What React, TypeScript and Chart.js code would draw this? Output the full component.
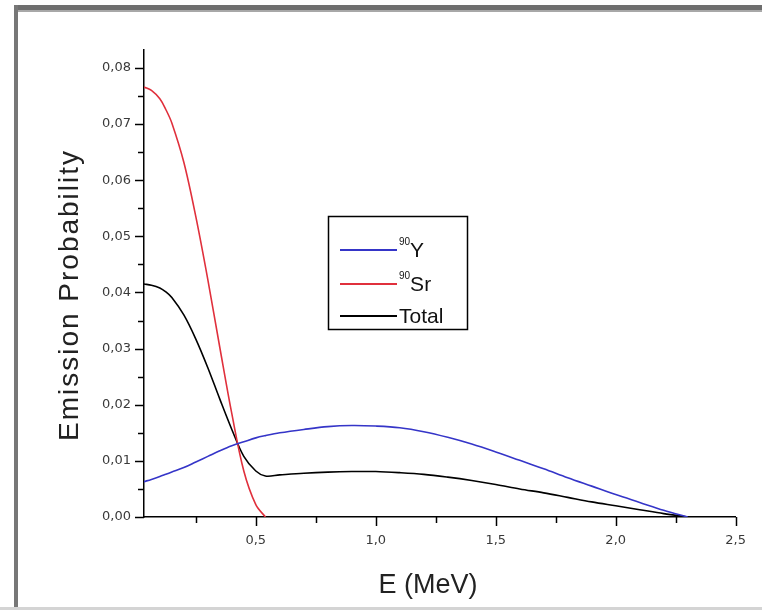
import React, { useEffect, useRef } from "react";
import { Chart, registerables } from "chart.js";

Chart.register(...registerables);

// Energy grid (MeV)
const energy = [0.034, 0.065, 0.1, 0.125, 0.15, 0.2, 0.25, 0.3, 0.35, 0.4, 0.45, 0.5, 0.54, 0.6, 0.7, 0.8, 0.9, 1.0, 1.1, 1.2, 1.3, 1.4, 1.5, 1.6, 1.7, 1.8, 1.9, 2.0, 2.1, 2.2, 2.3];
const yttriumValues = [0.0063, 0.0067, 0.0072, 0.0076, 0.008, 0.0088, 0.0098, 0.0108, 0.0118, 0.0127, 0.0134, 0.0141, 0.0145, 0.015, 0.0156, 0.0161, 0.0163, 0.0162, 0.0159, 0.0152, 0.0142, 0.013, 0.0116, 0.0101, 0.0086, 0.007, 0.0055, 0.004, 0.0026, 0.0012, 0.0];
const totalValues = [0.0415, 0.0413, 0.0408, 0.0401, 0.0391, 0.036, 0.0317, 0.0266, 0.021, 0.0156, 0.0108, 0.0082, 0.0073, 0.0075, 0.0078, 0.008, 0.0081, 0.0081, 0.0079, 0.0076, 0.0071, 0.0065, 0.0058, 0.005, 0.0043, 0.0035, 0.0027, 0.002, 0.0013, 0.0006, 0.0];
const srEnergy = [0.034, 0.065, 0.1, 0.125, 0.15, 0.2, 0.25, 0.3, 0.35, 0.4, 0.45, 0.5, 0.54];
const strontiumValues = [0.0766, 0.076, 0.0745, 0.0726, 0.0702, 0.0632, 0.0535, 0.0423, 0.0302, 0.0184, 0.0082, 0.0022, 0.0];

const xTicks = [0.25, 0.5, 0.75, 1.0, 1.25, 1.5, 1.75, 2.0, 2.25, 2.5];
const yTicks = [0, 0.005, 0.01, 0.015, 0.02, 0.025, 0.03, 0.035, 0.04, 0.045, 0.05, 0.055, 0.06, 0.065, 0.07, 0.075, 0.08];

const seriesNames = ["Y", "Sr", "Total"];
const seriesSup = ["90", "90", ""];
const xTitle = "E (MeV)";
const yTitle = "Emission Probability";

const isMajor = (v: number, step: number) => Math.abs(v / step - Math.round(v / step)) < 1e-6;

const framePlugin = {
  id: "frame",
  beforeDraw(chart: any) {
    const { ctx, width, height } = chart;
    ctx.save();
    ctx.fillStyle = "#ffffff";
    ctx.fillRect(0, 0, width, height);
    ctx.fillStyle = "#6e6e6e";
    ctx.fillRect(14, 5, width - 14, 5);
    ctx.fillStyle = "#a8a8a8";
    ctx.fillRect(14, 10, width - 14, 2);
    ctx.fillStyle = "#777777";
    ctx.fillRect(14, 5, 4, height - 8);
    ctx.fillStyle = "#d4d4d4";
    ctx.fillRect(0, height - 3, width, 3);
    ctx.restore();
  },
  afterDraw(chart: any) {
    const { ctx, chartArea } = chart;
    const xs = chart.scales.x;
    const ys = chart.scales.y;
    ctx.save();
    ctx.strokeStyle = "#000";
    ctx.lineWidth = 1.5;
    xs.ticks.forEach((t: any) => {
      const px = Math.round(xs.getPixelForValue(t.value)) + 0.5;
      const len = isMajor(t.value, 0.5) ? 9 : 6;
      ctx.beginPath();
      ctx.moveTo(px, chartArea.bottom);
      ctx.lineTo(px, chartArea.bottom + len);
      ctx.stroke();
    });
    ys.ticks.forEach((t: any) => {
      const py = Math.round(ys.getPixelForValue(t.value)) + 0.5;
      const len = isMajor(t.value, 0.01) ? 9 : 6;
      ctx.beginPath();
      ctx.moveTo(chartArea.left, py);
      ctx.lineTo(chartArea.left - len, py);
      ctx.stroke();
    });
    ctx.fillStyle = "#222";
    ctx.font = "27px 'Liberation Sans', Arial, sans-serif";
    ctx.textAlign = "center";
    ctx.textBaseline = "middle";
    ctx.fillText(xTitle, 428, 586);
    ctx.save();
    ctx.translate(70, 295);
    ctx.rotate(-Math.PI / 2);
    (ctx as any).letterSpacing = "2px";
    ctx.font = "28px 'Liberation Sans', Arial, sans-serif";
    ctx.fillText(yTitle, 0, 0);
    ctx.restore();
    const bx = 328, by = 216, bw = 139, bh = 113;
    ctx.lineWidth = 1.5;
    ctx.strokeStyle = "#000";
    ctx.strokeRect(bx + 0.5, by + 0.5, bw, bh);
    const rows = [250, 284, 316];
    chart.data.datasets.forEach((ds: any, i: number) => {
      const y = rows[i];
      ctx.strokeStyle = ds.borderColor;
      ctx.lineWidth = 2;
      ctx.beginPath();
      ctx.moveTo(340, y);
      ctx.lineTo(397, y);
      ctx.stroke();
      ctx.fillStyle = "#111";
      ctx.textAlign = "left";
      ctx.textBaseline = "middle";
      let tx = 399;
      if (seriesSup[i]) {
        ctx.font = "10px 'Liberation Sans', Arial, sans-serif";
        ctx.fillText(seriesSup[i], tx, y - 8);
        tx += ctx.measureText(seriesSup[i]).width;
      }
      ctx.font = "21px 'Liberation Sans', Arial, sans-serif";
      ctx.fillText(ds.label, tx, y + 1);
    });
    ctx.restore();
  },
};

export default function App() {
  const ref = useRef<HTMLCanvasElement | null>(null);
  useEffect(() => {
    document.body.style.margin = "0";
    const canvas = ref.current!;
    const common = { borderWidth: 1.6, pointRadius: 0, tension: 0.35 };
    const chart = new Chart(canvas, {
      type: "line",
      data: {
        datasets: [
          { label: seriesNames[0], data: energy.map((e, i) => ({ x: e, y: yttriumValues[i] })), borderColor: "#3535c8", ...common },
          { label: seriesNames[1], data: srEnergy.map((e, i) => ({ x: e, y: strontiumValues[i] })), borderColor: "#e0303c", ...common },
          { label: seriesNames[2], data: energy.map((e, i) => ({ x: e, y: totalValues[i] })), borderColor: "#000000", ...common },
        ],
      },
      options: {
        animation: false,
        responsive: false,
        devicePixelRatio: 1,
        layout: { padding: { top: 50, right: 25, left: 0, bottom: 0 } },
        plugins: { legend: { display: false }, tooltip: { enabled: false } },
        scales: {
          x: {
            type: "linear",
            min: 0.034,
            max: 2.5,
            afterBuildTicks: (s: any) => {
              s.ticks = xTicks.map((v) => ({ value: v }));
            },
            afterFit: (s: any) => {
              s.height = 93;
            },
            grid: { display: true, drawOnChartArea: false, drawTicks: false },
            border: { display: true, color: "#000", width: 1.5 },
            ticks: {
              padding: 16,
              color: "#3a3a3a",
              font: { family: "'DejaVu Sans', sans-serif", size: 13 },
              autoSkip: false,
              maxRotation: 0,
              callback: (v: any) => (isMajor(Number(v), 0.5) ? Number(v).toFixed(1).replace(".", ",") : ""),
            },
          },
          y: {
            type: "linear",
            min: 0,
            max: 0.0832,
            afterBuildTicks: (s: any) => {
              s.ticks = yTicks.map((v) => ({ value: v }));
            },
            afterFit: (s: any) => {
              s.width = 144;
            },
            grid: { display: true, drawOnChartArea: false, drawTicks: false },
            border: { display: true, color: "#000", width: 1.5 },
            ticks: {
              padding: 13,
              color: "#3a3a3a",
              font: { family: "'DejaVu Sans', sans-serif", size: 13 },
              autoSkip: false,
              callback: (v: any) => (isMajor(Number(v), 0.01) ? Number(v).toFixed(2).replace(".", ",") : ""),
            },
          },
        },
      },
      plugins: [framePlugin],
    });
    return () => chart.destroy();
  }, []);
  return <canvas ref={ref} width={762} height={610} style={{ display: "block", width: 762, height: 610 }} />;
}
